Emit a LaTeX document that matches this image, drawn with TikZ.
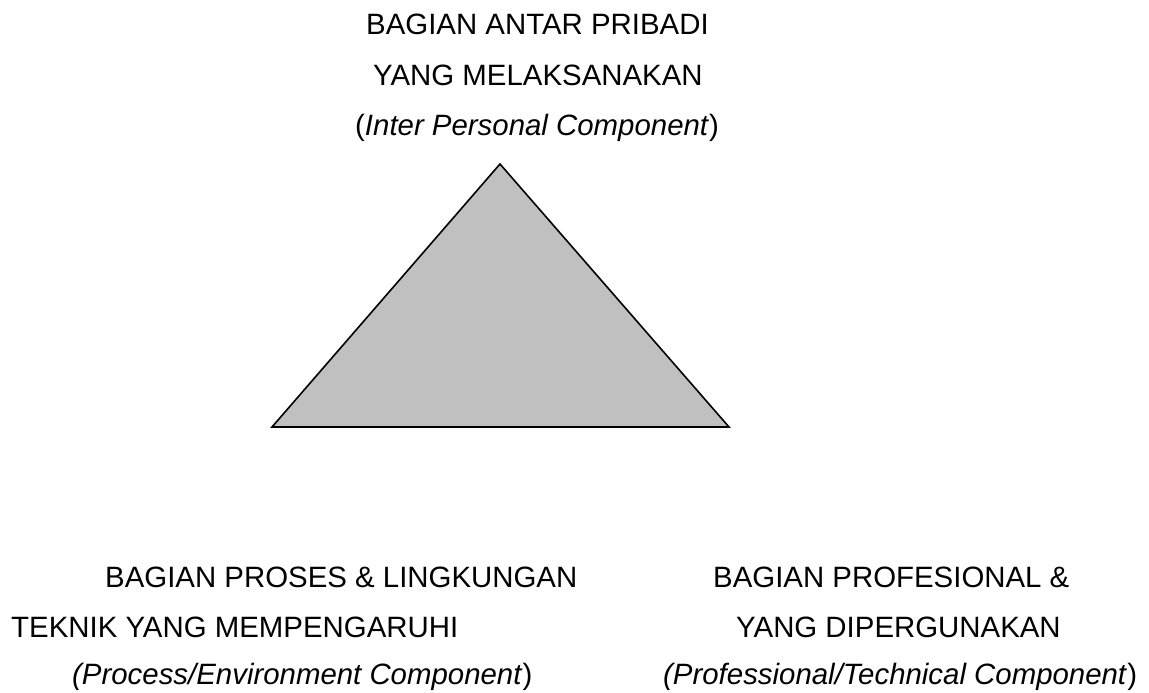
\documentclass[tikz,border=0pt]{standalone}
\usepackage{fontspec}
\setmainfont{Liberation Sans}
\begin{document}
\begin{tikzpicture}[x=1pt,y=-1pt,
  lbl/.style={anchor=base west,inner sep=0pt,font=\fontsize{29.4}{35}\selectfont}]
  \useasboundingbox (0,0) rectangle (1149,693);
  \draw [fill={rgb,255:red,192;green,192;blue,192},line width=1.6pt,line join=miter] (500,164) -- (729,427) -- (272,427) -- cycle;
  \node [lbl] (top1) at (366,35) {BAGIAN ANTAR PRIBADI};
  \node [lbl] (top2) at (373,85) {YANG MELAKSANAKAN};
  \node [lbl] (top3) at (355,135) {(\textit{Inter Personal Component})};
  \node [lbl] (left1) at (105,587) {BAGIAN PROSES \& LINGKUNGAN};
  \node [lbl] (left2) at (11,637) {TEKNIK YANG MEMPENGARUHI};
  \node [lbl] (left3) at (72,684) {\textit{(Process/Environment Component})};
  \node [lbl] (right1) at (713,587) {BAGIAN PROFESIONAL \&};
  \node [lbl] (right2) at (736,637) {YANG DIPERGUNAKAN};
  \node [lbl] (right3) at (663,684) {\textit{(Professional/Technical Component})};
 \end{tikzpicture}
\end{document}
